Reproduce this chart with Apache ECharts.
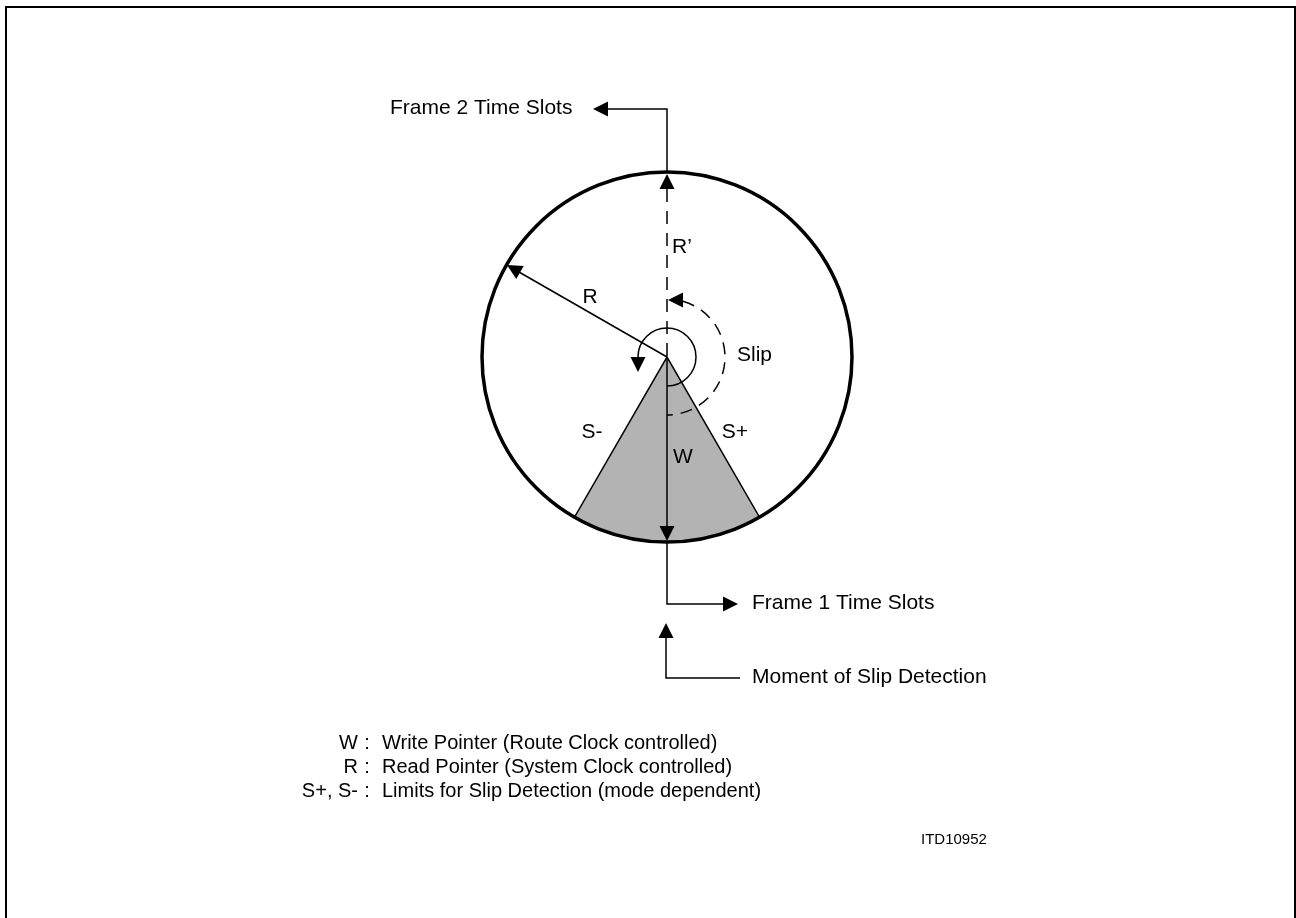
<!DOCTYPE html>
<html><head><meta charset="utf-8">
<script src="https://cdn.jsdelivr.net/npm/echarts@6/dist/echarts.min.js"></script>
<style>html,body{margin:0;padding:0;background:#fff}#main{width:1296px;height:918px}</style>
</head><body><div id="main"></div>
<script>
// ---- Diagram data (diagram units, y grows downward) ----
const ringCircle = [[667, 357, 185]];                 // cx, cy, r
const slipWedge = [[667, 357, 185, 60, 120]];         // cx, cy, r, start deg, end deg
const pointerArcs = [[667, 357, 29, 180, 450, 0],     // cx, cy, r, start deg, end deg, dashed
                     [667, 357, 58, 286, 450, 1]];
const borderLine = [[6, 940], [6, 7], [1295, 7], [1295, 940]];
const frame2Leader = [[667, 172], [667, 109], [606, 109]];
const rPrimeLine = [[667, 189], [667, 357]];
const wPointer = [[667, 357], [667, 528]];
const rPointer = [[667, 357], [512, 268]];
const frame1Leader = [[667, 542], [667, 604], [724, 604]];
const momentLeader = [[666, 636], [666, 678], [740, 678]];
const arrowHeads = [[667, 174, 270], [593, 109, 180], [667, 541, 90], [738, 604, 0],
                    [666, 623, 270], [507, 265, 210], [638, 372, 90], [668, 300, 180]]; // tip x, tip y, direction deg
const diagramLabels = ['Frame 2 Time Slots', 'Frame 1 Time Slots', 'Moment of Slip Detection',
                       'R\u2019', 'R', 'Slip', 'S-', 'S+', 'W'];
const diagramLabelPos = [[390, 108], [752, 603], [752, 677], [672, 247], [590, 297],
                         [737, 355], [592, 432], [735, 432], [683, 457]];
const diagramLabelAlign = ['left', 'left', 'left', 'left', 'center', 'left', 'center', 'center', 'center'];
const legendKeys = ['W', 'R', 'S+, S-'];
const legendTexts = ['Write Pointer (Route Clock controlled)',
                     'Read Pointer (System Clock controlled)',
                     'Limits for Slip Detection (mode dependent)'];
const legendRows = [743, 767, 791];
const figureIds = ['ITD10952'];
const figureIdPos = [[921, 840]];

// ---- Rendering ----
const FONT = "'Liberation Sans', Arial, Helvetica, sans-serif";
const D = Math.PI / 180;
const chart = echarts.init(document.getElementById('main'), null, {renderer: 'canvas'});

function lineSeries(data, opts) {
  opts = opts || {};
  return {
    type: 'line', data: data, symbol: 'none', showSymbol: false, silent: true, clip: false,
    animation: false, z: opts.z || 5,
    lineStyle: {color: '#000', width: opts.width || 1.5, type: opts.dash || 'solid', cap: 'butt', join: 'miter'}
  };
}

function textSeries(positions, texts, font, aligns, z) {
  return {
    type: 'custom', coordinateSystem: 'cartesian2d', data: positions, silent: true, animation: false, z: z || 10,
    renderItem: function (params, api) {
      const p = api.coord([api.value(0), api.value(1)]);
      return {
        type: 'text', x: p[0], y: p[1],
        style: {text: texts[params.dataIndex], font: font, fill: '#000',
                align: Array.isArray(aligns) ? aligns[params.dataIndex] : aligns, verticalAlign: 'middle'}
      };
    }
  };
}

const series = [];

// gray wedge between S- and S+
series.push({
  type: 'custom', coordinateSystem: 'cartesian2d', data: slipWedge, silent: true, animation: false, z: 2,
  renderItem: function (params, api) {
    const c = api.coord([api.value(0), api.value(1)]);
    const r = api.size([api.value(2), 0])[0];
    return {type: 'sector', shape: {cx: c[0], cy: c[1], r0: 0, r: r,
      startAngle: api.value(3) * D, endAngle: api.value(4) * D, clockwise: true},
      style: {fill: '#b3b3b3', stroke: '#000', lineWidth: 1.5}};
  }
});

// main ring
series.push({
  type: 'custom', coordinateSystem: 'cartesian2d', data: ringCircle, silent: true, animation: false, z: 4,
  renderItem: function (params, api) {
    const c = api.coord([api.value(0), api.value(1)]);
    const r = api.size([api.value(2), 0])[0];
    return {type: 'circle', shape: {cx: c[0], cy: c[1], r: r},
      style: {fill: 'none', stroke: '#000', lineWidth: 3.5}};
  }
});

// pointer arcs
series.push({
  type: 'custom', coordinateSystem: 'cartesian2d', data: pointerArcs, silent: true, animation: false, z: 5,
  renderItem: function (params, api) {
    const c = api.coord([api.value(0), api.value(1)]);
    const r = api.size([api.value(2), 0])[0];
    return {type: 'arc', shape: {cx: c[0], cy: c[1], r: r,
      startAngle: api.value(3) * D, endAngle: api.value(4) * D, clockwise: true},
      style: {fill: 'none', stroke: '#000', lineWidth: 1.5, lineDash: api.value(5) ? [12, 8] : null}};
  }
});

// lines
series.push(lineSeries(borderLine, {width: 2}));
series.push(lineSeries(frame2Leader));
series.push(lineSeries(rPrimeLine, {dash: [13, 9]}));
series.push(lineSeries(wPointer));
series.push(lineSeries(rPointer));
series.push(lineSeries(frame1Leader));
series.push(lineSeries(momentLeader));

// arrowheads
series.push({
  type: 'custom', coordinateSystem: 'cartesian2d', data: arrowHeads, silent: true, animation: false, z: 6,
  renderItem: function (params, api) {
    const tx = api.value(0), ty = api.value(1), a = api.value(2) * D;
    const L = 15, W = 15;
    const bx = tx - L * Math.cos(a), by = ty - L * Math.sin(a);
    const nx = -Math.sin(a) * W / 2, ny = Math.cos(a) * W / 2;
    const pts = [[tx, ty], [bx + nx, by + ny], [bx - nx, by - ny]].map(function (q) { return api.coord(q); });
    return {type: 'polygon', shape: {points: pts}, style: {fill: '#000', stroke: 'none'}};
  }
});

// texts
series.push(textSeries(diagramLabelPos, diagramLabels, '21px ' + FONT, diagramLabelAlign));
series.push(textSeries(legendRows.map(function (y) { return [358, y]; }), legendKeys, '20px ' + FONT, 'right'));
series.push(textSeries(legendRows.map(function (y) { return [367, y]; }), legendRows.map(function () { return ':'; }), '20px ' + FONT, 'center'));
series.push(textSeries(legendRows.map(function (y) { return [382, y]; }), legendTexts, '20px ' + FONT, 'left'));
series.push(textSeries(figureIdPos, figureIds, '15px ' + FONT, 'left'));

chart.setOption({
  animation: false,
  backgroundColor: '#fff',
  grid: {left: 0, right: 0, top: 0, bottom: 0, containLabel: false},
  xAxis: {type: 'value', min: 0, max: 1296, show: false},
  yAxis: {type: 'value', min: 0, max: 918, inverse: true, show: false},
  series: series
});
</script></body></html>
